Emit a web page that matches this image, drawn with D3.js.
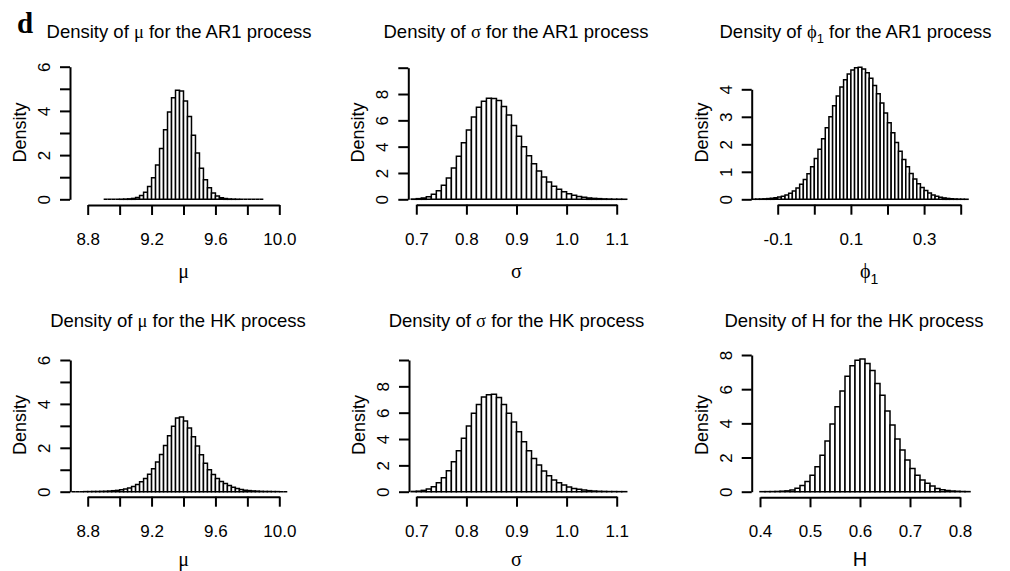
<!DOCTYPE html>
<html>
<head>
<meta charset="utf-8">
<script src="https://cdnjs.cloudflare.com/ajax/libs/d3/7.8.5/d3.min.js"></script>
<style>
body { margin:0; background:#fff; }
svg text { font-family: "Liberation Sans", Arial, sans-serif; fill:#000; }
</style>
</head>
<body>
<div id="chart"></div>
<script>
// densities of each histogram bin (bin start + fixed width)
var muAR1Start = 8.9, muAR1Bin = 0.025;
var muAR1 = [0, 0, 0, 0, 0.005, 0.01, 0.02, 0.04, 0.08, 0.17,
    0.32, 0.58, 0.98, 1.55, 2.3, 3.15, 3.95, 4.6, 4.93, 4.9,
    4.45, 3.75, 2.9, 2.1, 1.4, 0.88, 0.52, 0.29, 0.15, 0.075,
    0.035, 0.015, 0.008, 0.004, 0, 0, 0, 0, 0, 0];

var sigmaAR1Start = 0.69, sigmaAR1Bin = 0.01;
var sigmaAR1 = [0.02, 0.05, 0.1, 0.2, 0.38, 0.65, 1.07, 1.62, 2.38, 3.28,
    4.3, 5.27, 6.25, 7.0, 7.45, 7.68, 7.66, 7.5, 7.05, 6.4,
    5.6, 4.8, 4.0, 3.3, 2.7, 2.15, 1.7, 1.32, 1.0, 0.76,
    0.57, 0.42, 0.3, 0.21, 0.15, 0.1, 0.07, 0.05, 0.03, 0.02,
    0.01, 0.01, 0.005];

var phiAR1Start = -0.17, phiAR1Bin = 0.01;
var phiAR1 = [0.005, 0.008, 0.012, 0.018, 0.026, 0.038, 0.055, 0.08, 0.115, 0.16,
    0.22, 0.3, 0.41, 0.55, 0.72, 0.93, 1.18, 1.48, 1.82, 2.2,
    2.6, 3.0, 3.4, 3.76, 4.08, 4.35, 4.56, 4.7, 4.78, 4.8,
    4.74, 4.6, 4.4, 4.14, 3.84, 3.5, 3.14, 2.78, 2.42, 2.07,
    1.75, 1.45, 1.18, 0.94, 0.74, 0.57, 0.43, 0.32, 0.23, 0.16,
    0.11, 0.075, 0.05, 0.032, 0.02, 0.012, 0.007, 0.004, 0.002];

var muHKStart = 8.7, muHKBin = 0.025;
var muHK = [0, 0, 0, 0.005, 0.005, 0.01, 0.01, 0.015, 0.02, 0.03,
    0.045, 0.06, 0.085, 0.12, 0.17, 0.24, 0.33, 0.45, 0.6, 0.8,
    1.05, 1.35, 1.7, 2.1, 2.55, 2.98, 3.36, 3.4, 3.22, 2.9,
    2.5, 2.08, 1.68, 1.3, 1.0, 0.78, 0.6, 0.47, 0.37, 0.28,
    0.2, 0.15, 0.1, 0.07, 0.05, 0.035, 0.025, 0.015, 0.01, 0.01,
    0.005, 0.005, 0, 0];

var sigmaHKStart = 0.69, sigmaHKBin = 0.01;
var sigmaHK = [0.02, 0.04, 0.1, 0.2, 0.38, 0.68, 1.06, 1.6, 2.28, 3.11,
    4.05, 4.99, 5.95, 6.63, 7.2, 7.37, 7.4, 7.15, 6.63, 5.95,
    5.3, 4.56, 3.8, 3.11, 2.53, 2.03, 1.57, 1.22, 0.89, 0.68,
    0.5, 0.35, 0.25, 0.18, 0.12, 0.08, 0.05, 0.03, 0.02, 0.01,
    0.01, 0.005, 0.005];

var hHKStart = 0.40, hHKBin = 0.01;
var hHK = [0.003, 0.005, 0.008, 0.015, 0.03, 0.05, 0.1, 0.2, 0.37, 0.6,
    0.97, 1.46, 2.14, 2.96, 3.96, 4.97, 5.9, 6.76, 7.37, 7.7,
    7.76, 7.5, 7.1, 6.33, 5.65, 4.72, 3.9, 3.08, 2.44, 1.85,
    1.36, 0.97, 0.68, 0.49, 0.33, 0.19, 0.12, 0.07, 0.04, 0.025,
    0.012, 0.006];

// tick values and their labels ("" = tick without label)
var muTicks = [8.8, 9.0, 9.2, 9.4, 9.6, 9.8, 10.0],
    muLabels = ["8.8", "", "9.2", "", "9.6", "", "10.0"];
var sigmaTicks = [0.7, 0.8, 0.9, 1.0, 1.1],
    sigmaLabels = ["0.7", "0.8", "0.9", "1.0", "1.1"];
var phiTicks = [-0.1, 0, 0.1, 0.2, 0.3, 0.4],
    phiLabels = ["-0.1", "", "0.1", "", "0.3", ""];
var hTicks = [0.4, 0.5, 0.6, 0.7, 0.8],
    hLabels = ["0.4", "0.5", "0.6", "0.7", "0.8"];
var dens6Ticks = [0, 1, 2, 3, 4, 5, 6], dens6Labels = ["0", "", "2", "", "4", "", "6"];
var dens10Ticks = [0, 2, 4, 6, 8, 10], dens10Labels = ["0", "2", "4", "6", "8", ""];
var dens4Ticks = [0, 1, 2, 3, 4], dens4Labels = ["0", "1", "2", "3", "4"];
var dens8Ticks = [0, 2, 4, 6, 8], dens8Labels = ["0", "2", "4", "6", "8"];

var panels = [
  {dens: muAR1, start: muAR1Start, bin: muAR1Bin, xt: muTicks, xl: muLabels, yt: dens6Ticks, yl: dens6Labels,
   xr: [87.7, 279.3], yr: [199.3, 66.7], axisX: 70, axisY: 205, titleX: 179, titleY: 37.7, labY: 278, ylabY: 132.5,
   title: [["Density of ", "t"], ["\u03bc", "g"], [" for the AR1 process", "t"]], xlab: [["\u03bc", "g"]]},
  {dens: sigmaAR1, start: sigmaAR1Start, bin: sigmaAR1Bin, xt: sigmaTicks, xl: sigmaLabels, yt: dens10Ticks, yl: dens10Labels,
   xr: [416.3, 616.7], yr: [199.3, 67.7], axisX: 408.3, axisY: 204.7, titleX: 516, titleY: 37.7, labY: 278, ylabY: 132.5,
   title: [["Density of ", "t"], ["\u03c3", "g"], [" for the AR1 process", "t"]], xlab: [["\u03c3", "g"]]},
  {dens: phiAR1, start: phiAR1Start, bin: phiAR1Bin, xt: phiTicks, xl: phiLabels, yt: dens4Ticks, yl: dens4Labels,
   xr: [777.7, 960.7], yr: [199.3, 89.3], axisX: 751.7, axisY: 204.7, titleX: 855.5, titleY: 37.7, labY: 278, ylabY: 132.5,
   title: [["Density of ", "t"], ["\u03d5", "g"], ["1", "s"], [" for the AR1 process", "t"]], xlab: [["\u03d5", "g"], ["1", "s"]]},
  {dens: muHK, start: muHKStart, bin: muHKBin, xt: muTicks, xl: muLabels, yt: dens6Ticks, yl: dens6Labels,
   xr: [87.7, 279.3], yr: [491.7, 360], axisX: 70.3, axisY: 496.7, titleX: 178, titleY: 326.7, labY: 566, ylabY: 425,
   title: [["Density of ", "t"], ["\u03bc", "g"], [" for the HK process", "t"]], xlab: [["\u03bc", "g"]]},
  {dens: sigmaHK, start: sigmaHKStart, bin: sigmaHKBin, xt: sigmaTicks, xl: sigmaLabels, yt: dens10Ticks, yl: dens10Labels,
   xr: [416.3, 616.7], yr: [491.7, 360], axisX: 409, axisY: 496.7, titleX: 516.5, titleY: 326.7, labY: 566, ylabY: 425,
   title: [["Density of ", "t"], ["\u03c3", "g"], [" for the HK process", "t"]], xlab: [["\u03c3", "g"]]},
  {dens: hHK, start: hHKStart, bin: hHKBin, xt: hTicks, xl: hLabels, yt: dens8Ticks, yl: dens8Labels,
   xr: [760, 960], yr: [491.7, 355], axisX: 751.7, axisY: 497.3, titleX: 854, titleY: 326.7, labY: 566, ylabY: 425,
   title: [["Density of H for the HK process", "t"]], xlab: [["H", "t"]]}
];

var tickFont = 17, labFont = 18, titleFont = 18.5;

var svg = d3.select("#chart")
    .append("svg")
    .attr("width", 1010)
    .attr("height", 571)
    .style("background", "#fff");

// panel letter
svg.append("text")
    .attr("x", 17)
    .attr("y", 33)
    .style("font-family", "'Liberation Serif', 'Times New Roman', serif")
    .style("font-weight", "bold")
    .style("font-size", "29px")
    .text("d");

function richText(sel, parts, size) {
    parts.forEach(function(p) {
        var t = sel.append("tspan").text(p[0]);
        if (p[1] == "g")
            t.style("font-family", "'Liberation Serif', 'DejaVu Serif', serif");
        if (p[1] == "s") {
            t.attr("dy", size * 0.3).style("font-size", (size * 0.7) + "px");
        }
    });
    // undo subscript shift for following text
    sel.selectAll("tspan").each(function(d, i, nodes) {
        if (i > 0 && d3.select(nodes[i - 1]).attr("dy"))
            d3.select(this).attr("dy", -size * 0.3);
    });
}

function drawPanel(p) {
    var x = d3.scaleLinear()
        .domain([p.xt[0], p.xt[p.xt.length - 1]])
        .range(p.xr);
    var y = d3.scaleLinear()
        .domain([0, p.yt[p.yt.length - 1]])
        .range(p.yr);

    var g = svg.append("g");

    // histogram bars (zero bins still draw as a flat line, like R's hist)
    g.selectAll(".bar")
        .data(p.dens)
        .enter().append("path")
        .classed("bar", true)
        .attr("d", function(d, i) {
            var a = x(p.start + i * p.bin), b = x(p.start + (i + 1) * p.bin);
            return "M" + a + "," + y(0) + "V" + y(d) + "H" + b + "V" + y(0) + "Z";
        })
        .attr("fill", "#fff")
        .attr("stroke", "#000")
        .attr("stroke-width", 1.5);

    var xAxis = d3.axisBottom(x)
        .tickValues(p.xt)
        .tickFormat(function(d, i) { return p.xl[i]; })
        .tickSize(10)
        .tickSizeOuter(0);

    var gX = g.append("g")
        .attr("transform", "translate(0," + p.axisY + ")")
        .call(xAxis);
    gX.selectAll("text")
        .attr("y", 40)
        .attr("dy", 0)
        .attr("font-size", tickFont)
        .attr("font-family", null);

    var yAxis = d3.axisLeft(y)
        .tickValues(p.yt)
        .tickFormat(function(d, i) { return p.yl[i]; })
        .tickSize(10)
        .tickSizeOuter(0);

    var gY = g.append("g")
        .attr("transform", "translate(" + p.axisX + ",0)")
        .call(yAxis);
    gY.selectAll("text")
        .attr("transform", "rotate(-90)")
        .attr("x", 0)
        .attr("y", -20)
        .attr("dy", 0)
        .style("text-anchor", "middle")
        .attr("font-size", tickFont)
        .attr("font-family", null);

    g.selectAll(".domain, .tick line")
        .attr("stroke", "#000")
        .attr("stroke-width", 2);
    gX.attr("font-family", null).attr("font-size", null);
    gY.attr("font-family", null).attr("font-size", null);

    // titles
    var t = g.append("text")
        .attr("x", p.titleX)
        .attr("y", p.titleY)
        .style("text-anchor", "middle")
        .style("font-size", titleFont + "px");
    richText(t, p.title, titleFont);

    var xl = g.append("text")
        .attr("x", (p.xr[0] + p.xr[1]) / 2)
        .attr("y", p.labY)
        .style("text-anchor", "middle")
        .style("font-size", (labFont + 2) + "px");
    richText(xl, p.xlab, labFont + 2);

    g.append("text")
        .attr("transform", "translate(" + (p.axisX - 44) + "," + p.ylabY + ") rotate(-90)")
        .style("text-anchor", "middle")
        .style("font-size", labFont + "px")
        .text("Density");
}

panels.forEach(drawPanel);
</script>
</body>
</html>
